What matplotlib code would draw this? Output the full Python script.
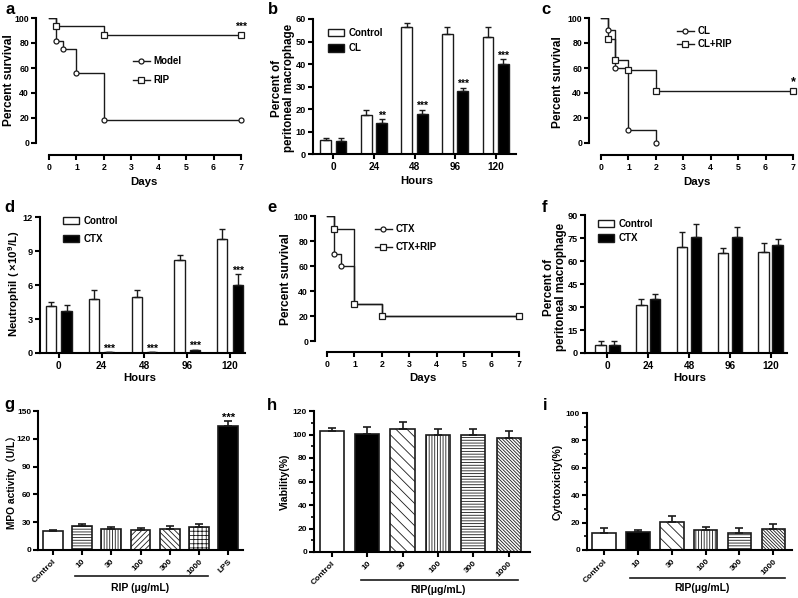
import numpy as np
import matplotlib
matplotlib.use('Agg')
import matplotlib.pyplot as plt
from matplotlib.lines import Line2D
from matplotlib.patches import Patch

# ---- a: survival, Model vs RIP
a_model_t = [0, 0.25, 0.5, 1, 2, 7]
a_model_s = [100, 81.25, 75, 56.25, 18.75, 18.75]
a_rip_t = [0, 0.25, 2, 7]
a_rip_s = [100, 93.3, 86.7, 86.7]

# ---- b: peritoneal macrophage, Control vs CL
hours = ['0', '24', '48', '96', '120']
b_ctrl = [6.3, 17.3, 56.6, 53.2, 52.1]
b_ctrl_err = [0.8, 2.4, 1.8, 3.1, 4.4]
b_cl = [6.0, 13.7, 17.7, 28.2, 40.0]
b_cl_err = [1.0, 1.8, 1.9, 1.3, 2.1]
b_stars = ['', '**', '***', '***', '***']

# ---- c: survival, CL vs CL+RIP
c_cl_t = [0, 0.25, 0.5, 1, 2]
c_cl_s = [100, 90, 60, 10, 0]
c_rip_t = [0, 0.25, 0.5, 1, 2, 7]
c_rip_s = [100, 83.3, 66.7, 58.3, 41.7, 41.7]

# ---- d: neutrophil, Control vs CTX
d_ctrl = [4.15, 4.8, 4.9, 8.2, 10.1]
d_ctrl_err = [0.32, 0.8, 0.7, 0.45, 0.8]
d_ctx = [3.75, 0.08, 0.08, 0.3, 6.0]
d_ctx_err = [0.5, 0.0, 0.0, 0.0, 0.95]
d_stars = ['', '***', '***', '***', '***']

# ---- e: survival, CTX vs CTX+RIP
e_ctx_t = [0, 0.25, 0.5, 1, 2, 7]
e_ctx_s = [100, 70, 60, 30, 20, 20]
e_rip_t = [0, 0.25, 1, 2, 7]
e_rip_s = [100, 90, 30, 20, 20]

# ---- f: peritoneal macrophage, Control vs CTX
f_ctrl = [5.0, 31.5, 69.4, 65.3, 65.7]
f_ctrl_err = [2.6, 3.7, 9.8, 3.5, 5.9]
f_ctx = [5.0, 35.4, 75.9, 75.5, 70.5]
f_ctx_err = [2.6, 3.0, 8.0, 6.5, 3.9]

# ---- g: MPO activity
g_labels = ['Control', '10', '30', '100', '300', '1000', 'LPS']
g_vals = [20.5, 25.8, 22.2, 21.5, 23.0, 24.4, 133.5]
g_err = [1.0, 2.0, 2.2, 1.8, 3.2, 3.6, 5.7]

# ---- h: viability / i: cytotoxicity
hi_labels = ['Control', '10', '30', '100', '300', '1000']
h_vals = [102.9, 100.6, 104.3, 99.7, 99.7, 97.1]
h_err = [2.9, 5.4, 6.0, 5.4, 4.6, 5.7]
i_vals = [12.7, 13.4, 20.5, 14.4, 12.4, 15.4]
i_err = [3.7, 1.5, 4.6, 2.4, 3.9, 3.4]

INK = '#1a1a1a'
W, H = 798, 598

plt.rcParams['font.family'] = ['Liberation Sans', 'Noto Sans CJK SC', 'DejaVu Sans']
plt.rcParams['font.weight'] = 'bold'
plt.rcParams['axes.labelweight'] = 'bold'
plt.rcParams['mathtext.fontset'] = 'custom'
plt.rcParams['mathtext.rm'] = 'Liberation Sans:bold'
plt.rcParams['mathtext.bf'] = 'Liberation Sans:bold'
plt.rcParams['mathtext.default'] = 'bf'
plt.rcParams['hatch.linewidth'] = 0.6
plt.rcParams['axes.linewidth'] = 1.5
plt.rcParams['xtick.major.width'] = 1.5
plt.rcParams['ytick.major.width'] = 1.5
plt.rcParams['xtick.major.size'] = 3.5
plt.rcParams['ytick.major.size'] = 3.5
plt.rcParams['xtick.major.pad'] = 2
plt.rcParams['ytick.major.pad'] = 1.5

fig = plt.figure(figsize=(W / 100, H / 100), dpi=100)


def box(l, t, r, b):
    # pixel box -> figure fraction
    return [l / W, 1 - b / H, (r - l) / W, (b - t) / H]


def ftext(x, y, s, **kw):
    fig.text(x / W, 1 - y / H, s, ha='center', va='center', **kw)


def clean(ax):
    ax.spines['top'].set_visible(False)
    ax.spines['right'].set_visible(False)


def stars_at(ax, x, y, s, size=8):
    ax.annotate(s, (x, y), xytext=(0, -1), textcoords='offset points',
                ha='center', va='bottom', fontsize=size)


def survival(ax, series, xlo, ylo, legend_at, spacing):
    clean(ax)
    for t, s, mk, ms, lab in series:
        ax.step(t, s, where='post', color=INK, lw=1.0, zorder=2)
        ax.plot(t[1:], s[1:], ls='none', marker=mk, ms=ms, mfc='white',
                mec=INK, mew=0.9, clip_on=False, zorder=3)
    ax.set_xlim(xlo, 7)
    ax.set_ylim(ylo, 100)
    ax.spines['left'].set_bounds(0, 100)
    ax.spines['bottom'].set_bounds(0, 7)
    ax.set_xticks(range(8))
    ax.set_yticks(range(0, 101, 20))
    ax.tick_params(labelsize=6.3)
    handles = [Line2D([], [], color=INK, lw=1.0, marker=mk, ms=ms, mfc='white',
                      mec=INK, mew=0.9) for _, _, mk, ms, _ in series]
    ax.legend(handles, [s[4] for s in series], loc='upper left', frameon=False,
              bbox_to_anchor=(legend_at[0] / W, 1 - legend_at[1] / H),
              bbox_transform=fig.transFigure, borderpad=0, borderaxespad=0,
              handlelength=1.7, handletextpad=0.4, labelspacing=spacing,
              fontsize=7)


def grouped(ax, v1, e1, v2, e2, names, ymax, step, xlim, off, wid, stars,
            legend_at, spacing):
    clean(ax)
    x = np.arange(len(v1))
    ax.bar(x - off, v1, wid, color='white', edgecolor=INK, lw=1.0, zorder=2)
    ax.bar(x + off, v2, wid, color='black', edgecolor=INK, lw=1.0, zorder=2)
    ax.errorbar(x - off, v1, yerr=[np.zeros(len(v1)), e1], fmt='none',
                ecolor=INK, elinewidth=1.0, capsize=2.5, capthick=1.0, zorder=3)
    ax.errorbar(x + off, v2, yerr=[np.zeros(len(v2)), e2], fmt='none',
                ecolor=INK, elinewidth=1.0, capsize=2.5, capthick=1.0, zorder=3)
    if stars:
        for xi, v, e, s in zip(x + off, v2, e2, stars):
            if s:
                stars_at(ax, xi, v + e, s, 7.5)
    ax.set_xlim(*xlim)
    ax.set_ylim(0, ymax)
    ax.set_yticks(np.arange(0, ymax + 0.01, step))
    ax.set_xticks(x)
    ax.set_xticklabels(hours)
    ax.tick_params(axis='x', labelsize=7.2)
    ax.tick_params(axis='y', labelsize=6.6)
    handles = [Patch(facecolor='white', edgecolor=INK, lw=1.0),
               Patch(facecolor='black', edgecolor=INK, lw=1.0)]
    ax.legend(handles, names, loc='upper left', frameon=False,
              bbox_to_anchor=(legend_at[0] / W, 1 - legend_at[1] / H),
              bbox_transform=fig.transFigure, borderpad=0, borderaxespad=0,
              handlelength=1.6, handleheight=0.75, handletextpad=0.5,
              labelspacing=spacing, fontsize=7)


def dose_bars(ax, vals, errs, labels, faces, hatches, ymax, step, xlim,
              wid, minor):
    clean(ax)
    x = np.arange(len(vals))
    for xi, v, fc, hh in zip(x, vals, faces, hatches):
        ax.bar(xi, v, wid, color=fc, edgecolor=INK, lw=1.2, hatch=hh, zorder=2)
    ax.errorbar(x, vals, yerr=[np.zeros(len(vals)), errs], fmt='none',
                ecolor=INK, elinewidth=1.2, capsize=3, capthick=1.2, zorder=3)
    ax.set_xlim(*xlim)
    ax.set_ylim(0, ymax)
    ax.set_yticks(np.arange(0, ymax + 0.01, step))
    if minor:
        ax.set_yticks(np.arange(step / 2, ymax, step), minor=True)
        ax.tick_params(axis='y', which='minor', length=2, width=1.2)
    ax.set_xticks(x)
    ax.set_xticklabels(labels, rotation=45, ha='right', va='top',
                       rotation_mode='anchor')
    ax.tick_params(axis='x', labelsize=6.0)
    ax.tick_params(axis='y', labelsize=6.0)


def rip_bracket(ax, x0, x1, yline, xtext, ytext, text):
    tr = ax.get_xaxis_transform()
    ax.plot([x0, x1], [yline, yline], color=INK, lw=1.2, transform=tr,
            clip_on=False)
    ax.text(xtext, ytext, text, transform=tr, ha='center', va='center',
            fontsize=7.5)


# a
ax = fig.add_axes(box(36, 18, 241, 155))
survival(ax, [(a_model_t, a_model_s, 'o', 3.6, 'Model'),
              (a_rip_t, a_rip_s, 's', 3.8, 'RIP')],
         -0.474, -9.6, (133, 56), 0.95)
stars_at(ax, 7, a_rip_s[-1] + 3, '***', 7.5)
ftext(144, 182, 'Days', fontsize=8.2, fontweight='bold')
ftext(9, 80, 'Percent survival', fontsize=8.6, fontweight='bold', rotation=90)

# b
ax = fig.add_axes(box(313, 19, 516, 154))
grouped(ax, b_ctrl, b_ctrl_err, b_cl, b_cl_err, ['Control', 'CL'], 60, 10,
        (-0.5, 4.5), 0.19, 0.27, b_stars, (328, 28), 0.55)
ftext(417, 181, 'Hours', fontsize=8.2, fontweight='bold')
ftext(283, 88, 'Percent of\nperitoneal macrophage', fontsize=8.4,
      fontweight='bold', rotation=90, linespacing=1.0)

# c
ax = fig.add_axes(box(589, 18, 793, 155))
survival(ax, [(c_cl_t, c_cl_s, 'o', 3.6, 'CL'),
              (c_rip_t, c_rip_s, 's', 3.8, 'CL+RIP')],
         -0.44, -9.6, (677, 26), 0.3)
stars_at(ax, 7, c_rip_s[-1] + 3, '*', 9)
ftext(697, 182, 'Days', fontsize=8.2, fontweight='bold')
ftext(558, 82, 'Percent survival', fontsize=8.6, fontweight='bold', rotation=90)

# d
ax = fig.add_axes(box(40, 217, 245, 353))
grouped(ax, d_ctrl, d_ctrl_err, d_ctx, d_ctx_err, ['Control', 'CTX'], 12, 3,
        (-0.44, 4.35), 0.18, 0.24, d_stars, (63, 216), 0.85)
ftext(140, 378, 'Hours', fontsize=8.2, fontweight='bold')
ftext(14, 284, 'Neutrophil ( \u00d710$^{9}$/L)', fontsize=8.2,
      fontweight='bold', rotation=90)

# e
ax = fig.add_axes(box(315, 216, 519, 352))
survival(ax, [(e_ctx_t, e_ctx_s, 'o', 3.6, 'CTX'),
              (e_rip_t, e_rip_s, 's', 3.8, 'CTX+RIP')],
         -0.44, -8.8, (375, 224), 0.85)
ftext(423, 378, 'Days', fontsize=8.2, fontweight='bold')
ftext(286, 279, 'Percent survival', fontsize=8.6, fontweight='bold',
      rotation=90)

# f
ax = fig.add_axes(box(585, 215, 787, 353))
grouped(ax, f_ctrl, f_ctrl_err, f_ctx, f_ctx_err, ['Control', 'CTX'], 90, 15,
        (-0.55, 4.4), 0.17, 0.26, None, (598, 219), 0.45)
ftext(690, 378, 'Hours', fontsize=8.2, fontweight='bold')
ftext(555, 287, 'Percent of\nperitoneal macrophage', fontsize=8.4,
      fontweight='bold', rotation=90, linespacing=1.0)

# g
ax = fig.add_axes(box(38, 411, 243, 550))
dose_bars(ax, g_vals, g_err, g_labels,
          ['white'] * 6 + ['black'],
          ['', '------', '||||||', '//////', '\\\\\\\\\\\\', '++++', ''],
          150, 30, (-0.5, 6.5), 0.68, False)
stars_at(ax, 6, g_vals[-1] + g_err[-1], '***', 8)
rip_bracket(ax, 0.78, 5.3, -0.19, 3.0, -0.27, 'RIP (\u03bcg/mL)')
ftext(12, 480, 'MPO activity\uff08U/L\uff09', fontsize=7.4, fontweight='bold',
      rotation=90)

# h
hi_faces = ['white', 'black', 'white', 'white', 'white', 'white']
hi_hatches = ['', '', '\\\\\\', '||||||', '------', '\\\\\\\\\\\\\\\\\\\\']
ax = fig.add_axes(box(314, 411, 530, 552))
dose_bars(ax, h_vals, h_err, hi_labels, hi_faces, hi_hatches,
          120, 20, (-0.5, 5.6), 0.68, True)
rip_bracket(ax, 0.82, 5.26, -0.2, 3.0, -0.27, 'RIP(\u03bcg/mL)')
ftext(285, 482, 'Viability(%)', fontsize=7.6, fontweight='bold', rotation=90)

# i
ax = fig.add_axes(box(587, 413, 792, 550))
dose_bars(ax, i_vals, i_err, hi_labels, hi_faces, hi_hatches,
          100, 20, (-0.5, 5.55), 0.7, True)
rip_bracket(ax, 0.77, 5.34, -0.204, 2.9, -0.28, 'RIP(\u03bcg/mL)')
ftext(558, 482, 'Cytotoxicity(%)', fontsize=7.6, fontweight='bold',
      rotation=90)

# panel letters
for lx, ly, s in [(10, 10, 'a'), (273, 10, 'b'), (546, 10, 'c'),
                  (9, 207, 'd'), (272, 207, 'e'), (545, 207, 'f'),
                  (9, 405, 'g'), (272, 405, 'h'), (545, 405, 'i')]:
    ftext(lx, ly, s, fontsize=12, fontweight='bold')

fig.savefig('out.png', dpi=100)
